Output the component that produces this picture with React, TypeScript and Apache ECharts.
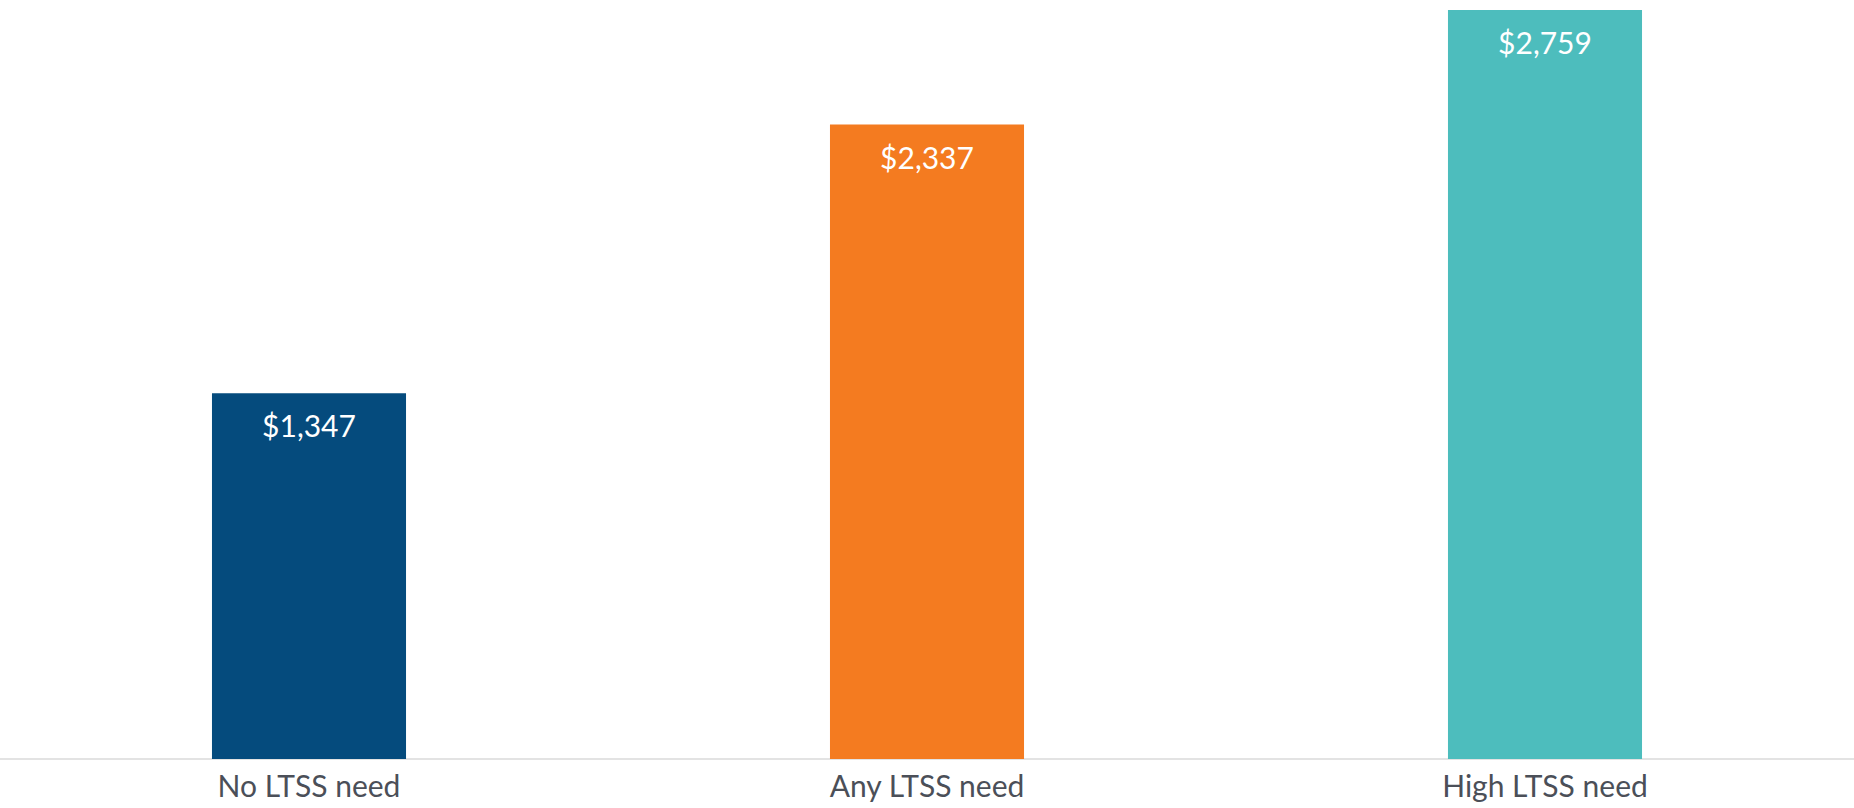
import React, { useEffect, useRef } from "react";
import * as echarts from "echarts";

const categories = ["No LTSS need", "Any LTSS need", "High LTSS need"];
const values = [1347, 2337, 2759];
const colors = ["#054b7d", "#f47b20", "#4dbdbd"];

export default function App() {
  const ref = useRef<HTMLDivElement>(null);
  useEffect(() => {
    if (!ref.current) return;
    const chart = echarts.init(ref.current, undefined, { renderer: "svg" });
    chart.setOption({
      animation: false,
      grid: { left: -7, right: -6, top: 10, bottom: 49, containLabel: false },
      xAxis: {
        type: "category",
        data: categories,
        axisLine: { show: true, lineStyle: { color: "#e3e3e3", width: 2 } },
        axisTick: { show: false },
        axisLabel: {
          color: "#4b4f58",
          fontFamily: "Lato",
          fontSize: 30,
          margin: 11,
        },
      },
      yAxis: {
        type: "value",
        min: 0,
        max: 2759,
        show: false,
        splitLine: { show: false },
      },
      series: [
        {
          type: "bar",
          barWidth: "31.4%",
          data: values.map((v, i) => ({ value: v, itemStyle: { color: colors[i] } })),
          label: {
            show: true,
            position: "insideTop",
            distance: 17,
            color: "#ffffff",
            fontFamily: "Lato",
            fontSize: 30,
            formatter: (p: any) => "$" + Number(p.value).toLocaleString("en-US"),
          },
        },
      ],
    });
    return () => chart.dispose();
  }, []);
  return (
    <div
      ref={ref}
      style={{ position: "absolute", left: 0, top: 0, width: 1854, height: 808, background: "#ffffff" }}
    />
  );
}
